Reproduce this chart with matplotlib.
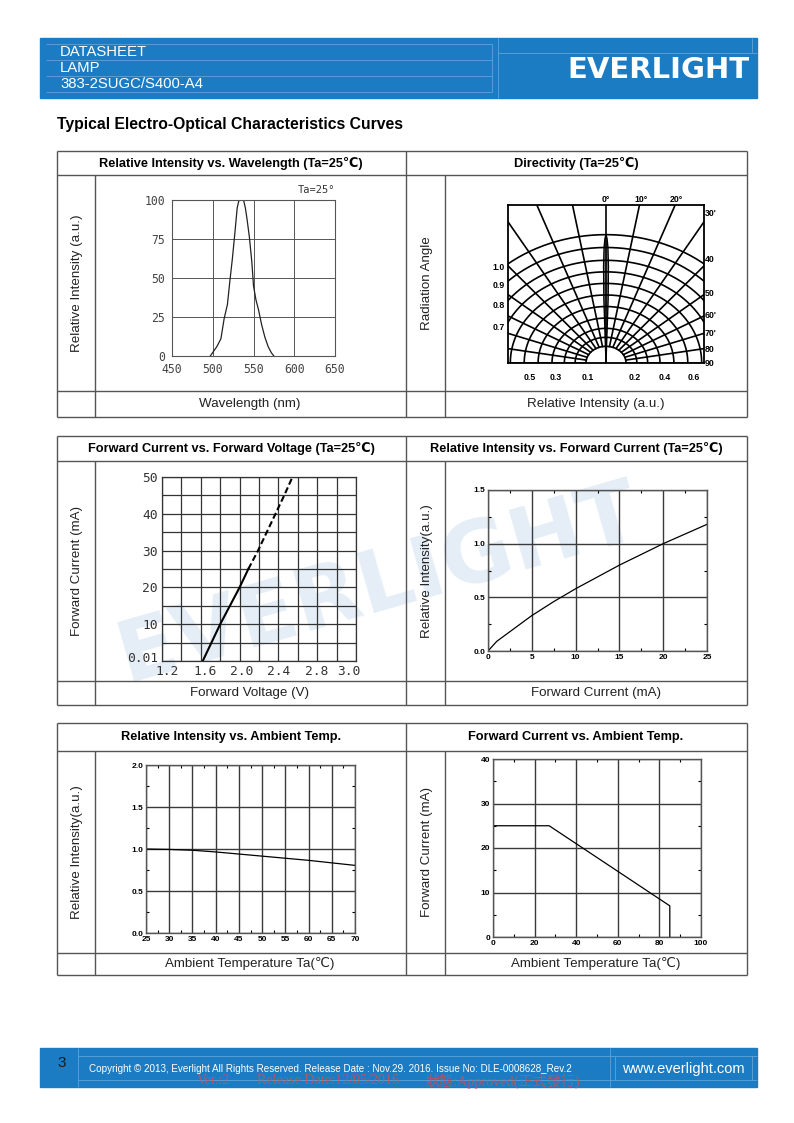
import numpy as np
import matplotlib
matplotlib.use("Agg")
import matplotlib.pyplot as plt

# --- 1. DATA ---
# Relative intensity vs wavelength
WL_NM = [497, 501, 505, 510, 514, 518, 521, 524, 527, 530, 532, 535, 538, 540,
         542, 545, 548, 550, 553, 556, 560, 564, 568, 572, 575]
WL_REL = [0, 3, 6, 11, 24, 33, 48, 62, 78, 95, 99.5, 100, 99.5, 95,
          88, 76, 60, 45, 36, 30, 20, 12, 6, 2, 0]
WL_TICKS = [450, 500, 550, 600, 650]
WL_YTICKS = [0, 25, 50, 75, 100]

# Directivity: grid angles, arc radii and beam lobe
DIR_ANGLES = [10, 20, 30, 40, 50, 60, 70, 80, 90]
DIR_ARCS = [1.0, 0.90, 0.80, 0.71, 0.62, 0.53, 0.44, 0.35, 0.27, 0.20, 0.13]
LOBE_ANG = [0, 0.4, 0.8, 1.2, 1.6, 2.0]
LOBE_INT = [1.0, 0.97, 0.90, 0.75, 0.50, 0.0]
DIR_LEFT_LABELS = ["1.0", "0.9", "0.8", "0.7"]
DIR_RIGHT_LABELS = ["30'", "40", "50", "60'", "70'", "80", "90"]
DIR_TOP_LABELS = ["0°", "10°", "20°"]
DIR_BOTTOM_LABELS = ["0.5", "0.3", "0.1", "0.2", "0.4", "0.6"]

# Forward current vs forward voltage
VF_SOLID = [1.62, 1.71, 1.80, 1.90, 2.00, 2.09]
IF_SOLID = [0, 5, 10, 15, 20, 25]
VF_DASH = [2.09, 2.19, 2.28, 2.37, 2.46, 2.545]
IF_DASH = [25, 30, 35, 40, 45, 50]
VF_TICKPOS = [1.25, 1.64, 2.02, 2.40, 2.79, 3.13]
VF_TICKLAB = ["1.2", "1.6", "2.0", "2.4", "2.8", "3.0"]
IF_TICKPOS = [1, 10, 20, 30, 40, 50]
IF_TICKLAB = ["0.01", "10", "20", "30", "40", "50"]

# Relative intensity vs forward current
CUR_MA = [0, 1, 2.5, 5, 7.5, 10, 12.5, 15, 17.5, 20, 22.5, 25]
CUR_REL = [0, 0.09, 0.18, 0.33, 0.46, 0.58, 0.69, 0.80, 0.90, 1.0, 1.09, 1.18]

# Relative intensity vs ambient temperature
TEMP_C = [25, 30, 35, 40, 45, 50, 55, 60, 65, 70]
TEMP_REL = [1.0, 0.995, 0.985, 0.965, 0.94, 0.915, 0.89, 0.865, 0.835, 0.805]

# Forward current derating vs ambient temperature
DER_TA = [0, 27, 85, 85]
DER_IF = [25, 25, 7, 0]

# --- 2. PAGE SETUP ---
W, H = 794, 1123
BLUE = "#1b7cc4"
LBLUE = "#5fa3da"
LINE = "#555555"
plt.rcParams["font.family"] = ["Liberation Sans", "DejaVu Sans"]

fig = plt.figure(figsize=(W / 100, H / 100), dpi=100)
page = fig.add_axes([0, 0, 1, 1])
page.set_xlim(0, W)
page.set_ylim(H, 0)
page.axis("off")


def px_axes(x0, y0, x1, y1):
    ax = fig.add_axes([x0 / W, 1 - y1 / H, (x1 - x0) / W, (y1 - y0) / H])
    ax.set_facecolor("none")
    return ax


def hline(y, x0, x1, c=LINE, lw=1.0):
    page.plot([x0, x1], [y, y], color=c, lw=lw, solid_capstyle="butt")


def vline(x, y0, y1, c=LINE, lw=1.0):
    page.plot([x, x], [y0, y1], color=c, lw=lw, solid_capstyle="butt")


# --- 3. HEADER ---
page.add_patch(plt.Rectangle((40, 38), 717, 60, color=BLUE, zorder=1))
for y in [44, 60, 76, 92]:
    hline(y, 46, 492, c=LBLUE, lw=0.6)
vline(492, 44, 92, c=LBLUE, lw=0.6)
vline(498, 38, 98, c=LBLUE, lw=0.6)
hline(53, 498, 757, c=LBLUE, lw=0.6)
vline(752, 38, 53, c=LBLUE, lw=0.6)
page.text(60, 52, "DATASHEET", color="white", fontsize=10.7, va="center", zorder=3)
page.text(60, 68, "LAMP", color="white", fontsize=10.7, va="center", zorder=3)
page.text(60, 84, "383-2SUGC/S400-A4", color="white", fontsize=10.7, va="center", zorder=3)
page.text(750, 70, "EVERLIGHT", color="white", fontsize=21, weight="bold",
          ha="right", va="center", family="DejaVu Sans", zorder=3)

page.text(57, 124, "Typical Electro-Optical Characteristics Curves",
          fontsize=11.3, weight="bold", va="center")

# watermark
page.text(378, 585, "EVERLIGHT", rotation=16, fontsize=62, weight="bold",
          color="#e5eef7", ha="center", va="center", family="DejaVu Sans", zorder=0)


# --- 4. TABLE FRAMES ---
def table(top, head_bot, row_top, bot, titles, ylabels, xlabels):
    for y in [top, head_bot, row_top, bot]:
        hline(y, 57, 747)
    vline(57, top, bot)
    vline(747, top, bot)
    vline(406, top, bot)
    vline(95, head_bot, bot)
    vline(445, head_bot, bot)
    hy = (top + head_bot) / 2
    page.text(231, hy, titles[0], fontsize=9.2, weight="bold", ha="center", va="center")
    page.text(576, hy, titles[1], fontsize=9.2, weight="bold", ha="center", va="center")
    my = (head_bot + row_top) / 2
    page.text(77, my, ylabels[0], fontsize=9.6, rotation=90, ha="center", va="center", color="#222")
    page.text(427, my, ylabels[1], fontsize=9.6, rotation=90, ha="center", va="center", color="#222")
    ry = (row_top + bot) / 2
    page.text(250, ry, xlabels[0], fontsize=9.6, ha="center", va="center", color="#222")
    page.text(596, ry, xlabels[1], fontsize=9.6, ha="center", va="center", color="#222")


table(151, 175, 391, 417,
      ["Relative Intensity vs. Wavelength (Ta=25℃)", "Directivity (Ta=25℃)"],
      ["Relative Intensity (a.u.)", "Radiation Angle"],
      ["Wavelength (nm)", "Relative Intensity (a.u.)"])
table(436, 461, 681, 705,
      ["Forward Current vs. Forward Voltage (Ta=25℃)",
       "Relative Intensity vs. Forward Current (Ta=25℃)"],
      ["Forward Current (mA)", "Relative Intensity(a.u.)"],
      ["Forward Voltage (V)", "Forward Current (mA)"])
table(723, 751, 953, 975,
      ["Relative Intensity vs. Ambient Temp.", "Forward Current vs. Ambient Temp."],
      ["Relative Intensity(a.u.)", "Forward Current (mA)"],
      ["Ambient Temperature Ta(℃)", "Ambient Temperature Ta(℃)"])

# --- 5. CHART: WAVELENGTH ---
ax = px_axes(172, 200, 335, 356)
ax.plot(WL_NM, WL_REL, color="#222", lw=0.9)
ax.set_xlim(450, 650)
ax.set_ylim(0, 100)
ax.set_xticks(WL_TICKS)
ax.set_yticks(WL_YTICKS)
ax.grid(True, color="#555", lw=0.7)
ax.tick_params(length=0, labelsize=8.3, colors="#444", pad=5)
for lab in ax.get_xticklabels() + ax.get_yticklabels():
    lab.set_family("DejaVu Sans Mono")
for s in ax.spines.values():
    s.set_color("#555")
    s.set_linewidth(0.8)
ax.text(650, 103, "Ta=25°", ha="right", va="bottom", fontsize=7.5,
        family="DejaVu Sans Mono", color="#333")

# --- 6. CHART: DIRECTIVITY ---
XS = 1.2  # horizontal stretch of the scanned polar grid
ax = px_axes(508, 205, 704, 363)
ax.set_xlim(-0.762, 0.762)
ax.set_ylim(0, 1.231)
ax.set_xticks([])
ax.set_yticks([])
for s in ax.spines.values():
    s.set_linewidth(1.3)
t = np.radians(np.linspace(-90, 90, 200))
for r in DIR_ARCS:
    ax.plot(XS * r * np.sin(t), r * np.cos(t), color="black", lw=1.2)
for a in DIR_ANGLES:
    for sgn in (-1, 1):
        th = np.radians(sgn * a)
        ax.plot([XS * 0.13 * np.sin(th), XS * 3 * np.sin(th)],
                [0.13 * np.cos(th), 3 * np.cos(th)], color="black", lw=1.2)
ax.plot([0, 0], [0, 2], color="black", lw=1.2)
la = np.radians(np.array(LOBE_ANG + LOBE_ANG[::-1][1:]) * np.array([1] * len(LOBE_ANG) + [-1] * (len(LOBE_ANG) - 1)))
li = np.array(LOBE_INT + LOBE_INT[::-1][1:])
ax.fill(XS * li * np.sin(la), li * np.cos(la), facecolor="#9a9a9a", edgecolor="black", lw=1.0)

for lab, y in zip(DIR_LEFT_LABELS, [267, 285, 305, 328]):
    page.text(505, y, lab, fontsize=6.3, weight="bold", ha="right", va="center")
for lab, y in zip(DIR_RIGHT_LABELS, [213, 260, 293, 316, 334, 349, 364]):
    page.text(705, y, lab, fontsize=6.3, weight="bold", ha="left", va="center")
for lab, x in zip(DIR_TOP_LABELS, [606, 641, 676]):
    page.text(x, 199, lab, fontsize=6.3, weight="bold", ha="center", va="center")
for lab, x in zip(DIR_BOTTOM_LABELS, [530, 556, 588, 635, 665, 694]):
    page.text(x, 378, lab, fontsize=6.3, weight="bold", ha="center", va="center")

# --- 7. CHART: FORWARD CURRENT vs VOLTAGE ---
ax = px_axes(162, 477, 356, 661)
ax.plot(VF_SOLID, IF_SOLID, color="black", lw=1.5)
ax.plot(VF_DASH, IF_DASH, color="black", lw=1.5, ls=(0, (3, 1.5)))
ax.set_xlim(1.2, 3.2)
ax.set_ylim(0, 50)
ax.xaxis.remove_overlapping_locs = False
ax.yaxis.remove_overlapping_locs = False
ax.set_xticks(np.arange(1.2, 3.21, 0.2), minor=True)
ax.set_yticks(np.arange(0, 51, 5), minor=True)
ax.set_xticks(VF_TICKPOS, VF_TICKLAB)
ax.set_yticks(IF_TICKPOS, IF_TICKLAB)
ax.grid(True, which="minor", color="#333", lw=0.9)
ax.tick_params(which="both", length=0, labelsize=9.3, colors="#333", pad=3)
for lab in ax.get_xticklabels() + ax.get_yticklabels():
    lab.set_family("DejaVu Sans Mono")
for s in ax.spines.values():
    s.set_color("#333")
    s.set_linewidth(0.9)


# --- 8. SIMPLE GRID CHARTS ---
def grid_chart(box, x, y, xlim, ylim, xmaj, ymaj, xmin, ymin):
    ax = px_axes(*box)
    ax.plot(x, y, color="black", lw=0.9)
    ax.set_xlim(*xlim)
    ax.set_ylim(*ylim)
    ax.set_xticks(xmaj)
    ax.set_yticks(ymaj)
    ax.set_xticks(xmin, minor=True)
    ax.set_yticks(ymin, minor=True)
    ax.grid(True, which="major", color="#3a3a3a", lw=1.0)
    ax.tick_params(which="major", length=0, labelsize=6, pad=2)
    ax.tick_params(which="minor", direction="in", length=2.5, width=0.8,
                   top=True, right=True)
    for lab in ax.get_xticklabels() + ax.get_yticklabels():
        lab.set_weight("bold")
    for s in ax.spines.values():
        s.set_color("#555")
        s.set_linewidth(1.0)
    return ax


ax = grid_chart((488, 490, 707, 651), CUR_MA, CUR_REL, (0, 25), (0, 1.5),
                [0, 5, 10, 15, 20, 25], [0, 0.5, 1.0, 1.5],
                np.arange(2.5, 25, 5), np.arange(0.25, 1.5, 0.5))
ax.set_yticklabels(["0.0", "0.5", "1.0", "1.5"])

ax = grid_chart((146, 765, 355, 933), TEMP_C, TEMP_REL, (25, 70), (0, 2.0),
                list(range(25, 71, 5)), [0, 0.5, 1.0, 1.5, 2.0],
                np.arange(27.5, 70, 5), np.arange(0.25, 2.0, 0.5))
ax.set_yticklabels(["0.0", "0.5", "1.0", "1.5", "2.0"])

ax = grid_chart((493, 759, 701, 937), DER_TA, DER_IF, (0, 100), (0, 40),
                [0, 20, 40, 60, 80, 100], [0, 10, 20, 30, 40],
                np.arange(10, 100, 20), np.arange(5, 40, 10))

# --- 9. FOOTER ---
page.add_patch(plt.Rectangle((40, 1048), 717, 39, color=BLUE, zorder=1))
vline(78, 1048, 1087, c=LBLUE, lw=0.6)
vline(610, 1048, 1087, c=LBLUE, lw=0.6)
vline(615, 1056, 1080, c=LBLUE, lw=0.6)
vline(752, 1056, 1080, c=LBLUE, lw=0.6)
hline(1056, 78, 757, c=LBLUE, lw=0.6)
hline(1080, 78, 757, c=LBLUE, lw=0.6)
page.text(62, 1063, "3", fontsize=11, color="#1a1a1a", ha="center", va="center", zorder=3)
page.text(89, 1069, "Copyright © 2013, Everlight All Rights Reserved. Release Date : Nov.29. 2016. "
          "Issue No: DLE-0008628_Rev.2", fontsize=7.1, color="white", va="center", zorder=3)
page.text(683, 1069, "www.everlight.com", fontsize=10.5, color="white",
          ha="center", va="center", zorder=3)
serif_cjk = ["Liberation Serif", "Noto Sans CJK TC"]
for txt, x in [("Ver.:2", 197), ("Release Date:12/05/2016", 257),
               ("狀態:Approved(正式發行)", 425)]:
    page.text(x, 1081, txt, fontsize=10.2, color="#d9504c", alpha=0.7,
              family=serif_cjk, va="center", zorder=4)

plt.savefig("out.png", dpi=100)
